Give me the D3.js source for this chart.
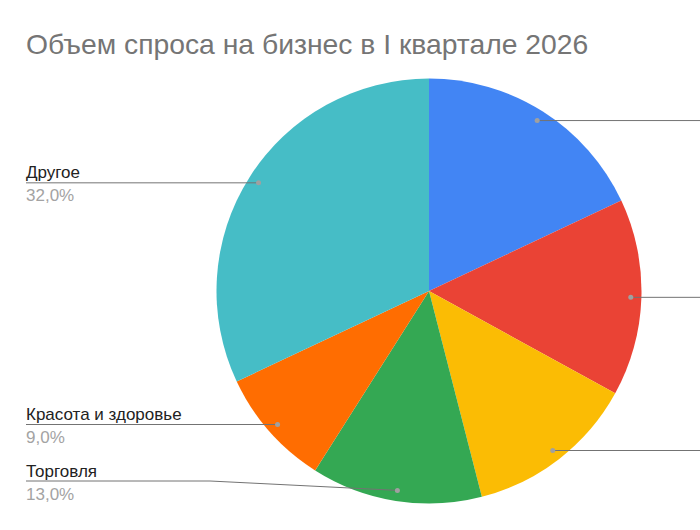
<!DOCTYPE html>
<html lang="ru">
  <head>
    <meta charset="UTF-8" />
    <title>Объем спроса на бизнес в I квартале 2026</title>
    <script src="https://d3js.org/d3.v7.min.js"></script>
    <style>
      body {
        margin: 0;
        background-color: #ffffff;
        font-family: "Liberation Sans", Arial, sans-serif;
      }
      .chart-title {
        font-size: 28.3px;
        fill: #757575;
      }
      .label-name {
        font-size: 17px;
        fill: #222222;
      }
      .label-value {
        font-size: 17px;
        fill: #a3a3a3;
      }
      .leader {
        fill: none;
        stroke: #737373;
        stroke-width: 1;
      }
    </style>
  </head>
  <body>
    <div id="chart"></div>

    <script>
      // Chart data (the three right-hand labels are cut off in the source picture)
      const categories = ["", "", "", "Торговля", "Красота и здоровье", "Другое"];
      const values = [18, 15, 13, 13, 9, 32];
      const colors = ["#4285f4", "#ea4335", "#fbbc04", "#34a853", "#ff6d01", "#46bdc6"];
      const title = "Объем спроса на бизнес в I квартале 2026";

      const width = 700,
        height = 530;
      const cx = 429,
        cy = 291,
        radius = 212.5;

      const svg = d3
        .select("#chart")
        .append("svg")
        .attr("width", width)
        .attr("height", height);

      svg
        .append("text")
        .attr("class", "chart-title")
        .attr("x", 26)
        .attr("y", 54)
        .text(title);

      const data = categories.map((c, i) => ({ name: c, value: values[i], color: colors[i] }));
      const total = d3.sum(values);

      const pie = d3.pie().sort(null).value((d) => d.value);
      const arc = d3.arc().innerRadius(0).outerRadius(radius);
      const arcs = pie(data);

      const g = svg.append("g").attr("transform", "translate(" + cx + "," + cy + ")");

      // Slices
      g.selectAll("path.slice")
        .data(arcs)
        .enter()
        .append("path")
        .attr("class", "slice")
        .attr("d", arc)
        .attr("fill", (d) => d.data.color);

      // Leader lines
      const dotArc = d3.arc().innerRadius(radius * 0.95).outerRadius(radius * 0.95);
      const fmt = (v) => d3.format(".1f")(v).replace(".", ",") + "%";

      arcs.forEach((d) => {
        const [dx, dy] = dotArc.centroid(d);
        const px = cx + dx,
          py = cy + dy;
        const left = px < cx;
        // keep the label block inside the chart area
        const lineY = Math.min(py, height - 49);
        let points;
        if (left) {
          points = lineY === py ? [[26, lineY], [px, py]] : [[26, lineY], [210, lineY], [px, py]];
        } else {
          points = [[px, py], [width + 20, lineY]];
        }
        svg.append("path").attr("class", "leader").attr("d", d3.line()(points));
        svg
          .append("circle")
          .attr("cx", px)
          .attr("cy", py)
          .attr("r", 2.5)
          .attr("fill", "#a0a0a0");

        if (left && d.data.name) {
          svg
            .append("text")
            .attr("class", "label-name")
            .attr("x", 26)
            .attr("y", lineY - 4.5)
            .text(d.data.name);
          svg
            .append("text")
            .attr("class", "label-value")
            .attr("x", 26)
            .attr("y", lineY + 18.5)
            .text(fmt((d.data.value / total) * 100));
        }
      });
    </script>
  </body>
</html>
